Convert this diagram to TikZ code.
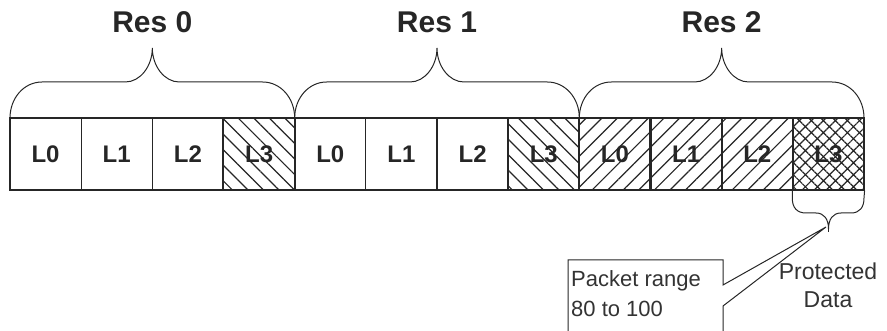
\documentclass[tikz,border=0pt]{standalone}
\usepackage{fontspec}
\setmainfont{Liberation Sans}
\usetikzlibrary{patterns.meta}

\tikzset{
  outline/.style={line width=1.1pt, draw=black!85},
  cell/.style={outline, minimum width=71.17pt, minimum height=72pt, inner sep=0pt,
    font=\fontsize{24}{24}\selectfont\bfseries, text=black!85},
  backhatch/.style={pattern={Lines[angle=-45,distance=11pt,line width=1.2pt]}, pattern color=black!85},
  fwdhatch/.style={pattern={Lines[angle=45,distance=11pt,line width=1.2pt]}, pattern color=black!85},
  crosshatch/.style={pattern={Hatch[angle=45,distance=8.5pt,line width=1.2pt]}, pattern color=black!85},
  reslabel/.style={font=\fontsize{30}{30}\selectfont\bfseries, text=black!85, inner sep=0pt, anchor=base},
  brace/.style={outline, line width=1.0pt},
  note/.style={font=\fontsize{22}{30}\selectfont, text=black!80, inner sep=0pt, align=left},
}

\begin{document}
\begin{tikzpicture}[x=1pt,y=1pt]
  \useasboundingbox (0,0) rectangle (887,-331);
  \clip (0,0) rectangle (887,-331);

  % the twelve layer cells, three resolutions of four layers each
  \foreach \r in {0,1,2}{
    \foreach \l in {0,1,2,3}{
      \pgfmathsetmacro{\cx}{10+71.17*(4*\r+\l)+35.58}
      \node[cell] (r\r l\l) at (\cx,-154) {L\l};
    }
  }
  % hatching laid over the protected/affected layers
  \foreach \c/\p in {r0l3/backhatch, r1l3/backhatch, r2l0/fwdhatch, r2l1/fwdhatch, r2l2/fwdhatch, r2l3/crosshatch}{
    \path[\p] (\c.south west) rectangle (\c.north east);
    \draw[outline] (\c.south west) rectangle (\c.north east);
  }

  % braces over each resolution
  \foreach \r in {0,1,2}{
    \pgfmathsetmacro{\xa}{10+284.67*\r}
    \pgfmathsetmacro{\xb}{\xa+284.67}
    \pgfmathsetmacro{\xm}{\xa+142.33}
    \draw[brace] (\xa,-118) .. controls (\xa,-98) and (\xa+14,-82) .. (\xa+32,-82)
      -- (\xm-27,-82) .. controls (\xm-12,-82) and (\xm,-66) .. (\xm,-48)
      .. controls (\xm,-66) and (\xm+12,-82) .. (\xm+27,-82)
      -- (\xb-32,-82) .. controls (\xb-14,-82) and (\xb,-98) .. (\xb,-118);
    \node[reslabel] (res\r) at (\xm,-33) {Res \r};
  }

  % downward brace under the last layer
  \coordinate (tip) at (828.5,-229);
  \draw[brace] (r2l3.south west) -- ++(0,-8) .. controls ++(0,-9) and (797,-213) .. (806,-213)
    -- (816,-213) .. controls (824,-213) and (828.5,-219) .. (tip)
    .. controls (828.5,-219) and (833,-213) .. (841,-213)
    -- (851,-213) .. controls (860,-213) and (864,-207) .. (864,-198) -- (r2l3.south east);
  \draw[brace] (tip) -- ++(0,-3);

  % callout box pointing to the brace tip
  \draw[outline, line width=1.0pt] (568,-345) -- (568,-260) -- (723,-260) -- (723,-285)
    -- (826,-227) -- (723,-306) -- (723,-345);
  \node[note, anchor=base west] (packet) at (571,-317) {Packet range\\80 to 100};

  \node[font=\fontsize{23}{28}\selectfont, text=black!80, inner sep=0pt, align=center, anchor=base]
    (prot) at (828,-308) {Protected\\Data};
\end{tikzpicture}
\end{document}
